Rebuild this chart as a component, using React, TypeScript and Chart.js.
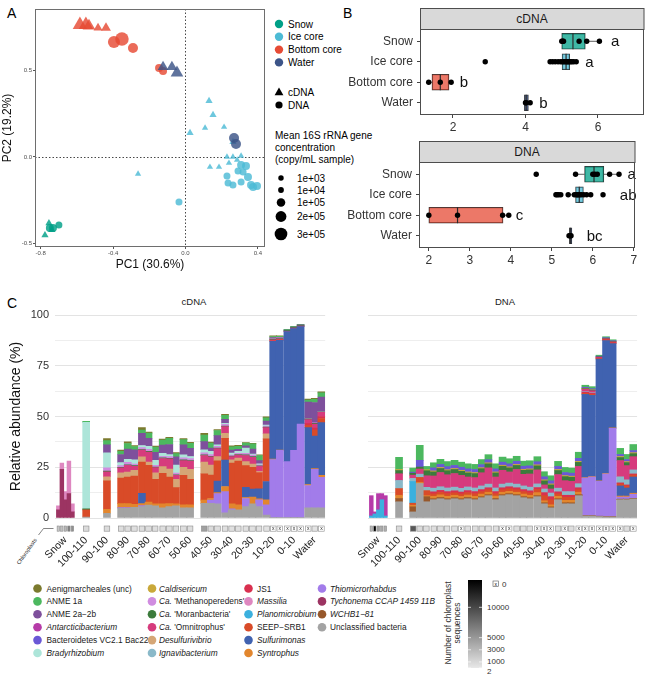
import React, { useEffect, useRef } from "react";
import { Chart, registerables } from "chart.js";

Chart.register(...registerables);

const FONT = "'Liberation Sans', Arial, Helvetica, sans-serif";

/* ===================== Panel A : PCA ===================== */
const pcaGroup = [
  "Bottom core", "Bottom core", "Bottom core", "Bottom core", "Bottom core",
  "Bottom core", "Bottom core", "Bottom core", "Bottom core", "Bottom core",
  "Water", "Water", "Water", "Water", "Water",
  "Ice core", "Ice core", "Ice core", "Ice core", "Ice core", "Ice core", "Ice core",
  "Ice core", "Ice core", "Ice core", "Ice core", "Ice core", "Ice core", "Ice core",
  "Ice core", "Ice core", "Ice core", "Ice core", "Ice core", "Ice core", "Ice core",
  "Ice core", "Ice core", "Ice core", "Ice core", "Ice core", "Ice core",
  "Snow", "Snow", "Snow", "Snow", "Snow", "Snow",
];
const pcaType = [
  "cDNA", "cDNA", "cDNA", "cDNA", "cDNA", "DNA", "DNA", "DNA", "DNA", "DNA",
  "cDNA", "cDNA", "cDNA", "DNA", "DNA",
  "cDNA", "cDNA", "cDNA", "cDNA", "cDNA", "cDNA", "cDNA",
  "cDNA", "cDNA", "cDNA", "cDNA", "cDNA", "cDNA", "cDNA",
  "DNA", "DNA", "DNA", "DNA", "DNA", "DNA", "DNA",
  "DNA", "DNA", "DNA", "DNA", "DNA", "DNA",
  "cDNA", "cDNA", "cDNA", "DNA", "DNA", "DNA",
];
const pcaPC1 = [
  -0.583, -0.55, -0.533, -0.483, -0.439, -0.395, -0.351, -0.29, -0.146, -0.124,
  -0.124, -0.075, -0.047, 0.268, 0.279,
  0.13, 0.152, 0.108, 0.213, 0.025, 0.262, 0.229, 0.262, 0.307, 0.285, 0.135, 0.185, 0.24, -0.262,
  0.229, 0.235, 0.262, 0.307, 0.318, 0.334, 0.345, 0.362, 0.373, 0.395, 0.307, 0.29, -0.036,
  -0.776, -0.754, -0.738, -0.749, -0.732, -0.699,
];
const pcaPC2 = [
  0.763, 0.763, 0.757, 0.746, 0.746, 0.665, 0.682, 0.63, 0.514, 0.497,
  0.52, 0.52, 0.486, 0.11, 0.075,
  0.324, 0.243, 0.168, 0.173, 0.139, 0.087, 0, 0, 0.006, -0.017, -0.058, -0.058, -0.035, -0.098,
  -0.11, -0.15, -0.162, -0.145, -0.087, -0.052, -0.116, -0.162, -0.173, -0.168, -0.046, -0.081, -0.26,
  -0.451, -0.382, -0.422, -0.41, -0.41, -0.393,
];
const pcaConc = [
  306000, 306000, 219000, 79000, 110000, 261000, 350000, 161000, 79000, 79000,
  143000, 143000, 219000, 161000, 161000,
  27000, 27000, 5000, 5000, 27000, 27000, 5000, 5000, 5000, 5000, 5000, 5000, 5000, 5000,
  45000, 45000, 45000, 45000, 45000, 79000, 79000, 79000, 79000, 79000, 79000, 45000, 45000,
  27000, 27000, 27000, 79000, 79000, 45000,
];
const pcaXTicks = [-0.8, -0.4, 0, 0.4];
const pcaYTicks = [-0.5, 0, 0.5];
const groupNames = ["Snow", "Ice core", "Bottom core", "Water"];
const sizeBreaks = [1000, 10000, 100000, 200000, 300000];
const sizeBreakLabels = ["1e+03", "1e+04", "1e+05", "2e+05", "3e+05"];

/* ===================== Panel B : qPCR boxplots ===================== */
const cdnaQ1 = [5.0, 5.01, 1.42, 3.97];
const cdnaMed = [5.31, 5.12, 1.65, 4.02];
const cdnaQ3 = [5.65, 5.22, 1.89, 4.08];
const cdnaLo = [5.0, 4.68, 1.33, 3.99];
const cdnaHi = [6.04, 5.42, 1.95, 4.13];
const cdnaPtGroup = [
  "Snow", "Snow", "Snow", "Snow", "Snow", "Snow",
  "Ice core", "Ice core", "Ice core", "Ice core", "Ice core", "Ice core", "Ice core", "Ice core",
  "Ice core", "Ice core", "Ice core", "Ice core", "Ice core", "Ice core", "Ice core", "Ice core",
  "Bottom core", "Bottom core", "Bottom core", "Water", "Water", "Water",
];
const cdnaPtValue = [
  5.0, 5.03, 5.05, 5.48, 5.69, 6.04,
  2.89, 4.68, 4.75, 4.82, 4.9, 4.97, 5.02, 5.06, 5.1, 5.14, 5.17, 5.2, 5.24, 5.28, 5.33, 5.4,
  1.33, 1.65, 1.95, 4.0, 4.02, 4.13,
];
const cdnaLetters = ["a", "a", "b", "b"];
const cdnaLetterX = [6.36, 5.65, 2.19, 4.38];

const dnaQ1 = [5.8, 5.58, 2.0, 5.43];
const dnaMed = [6.03, 5.67, 2.7, 5.45];
const dnaQ3 = [6.27, 5.77, 3.81, 5.49];
const dnaLo = [5.58, 5.4, 2.0, 5.42];
const dnaHi = [6.64, 5.95, 3.95, 5.5];
const dnaPtGroup = [
  "Snow", "Snow", "Snow", "Snow", "Snow", "Snow", "Snow",
  "Ice core", "Ice core", "Ice core", "Ice core", "Ice core", "Ice core", "Ice core", "Ice core",
  "Ice core", "Ice core", "Ice core", "Ice core", "Ice core", "Ice core", "Ice core",
  "Bottom core", "Bottom core", "Bottom core", "Bottom core", "Water", "Water", "Water",
];
const dnaPtValue = [
  4.62, 5.58, 6.0, 6.05, 6.11, 6.41, 6.64,
  5.1, 5.13, 5.17, 5.22, 5.4, 5.55, 5.6, 5.62, 5.65, 5.68, 5.72, 5.78, 5.85, 5.95, 6.25,
  2.0, 2.7, 3.8, 3.95, 5.42, 5.45, 5.47,
];
const dnaLetters = ["a", "ab", "c", "bc"];
const dnaLetterX = [6.85, 6.66, 4.12, 5.85];

/* ===================== Panel C : relative abundance ===================== */
const depthLabels = ["Snow", "100-110", "90-100", "80-90", "70-80", "60-70", "50-60", "40-50", "30-40", "20-30", "10-20", "0-10", "Water"];
const yGridValues = [0, 12.5, 25, 37.5, 50, 62.5, 75, 87.5, 100];

const taxa = [
  "Aenigmarcheales (unc)", "ANME 1a", "ANME 2a\u22122b", "Antarcticibacterium", "Bacteroidetes VC2.1 Bac22", "Bradyrhizobium",
  "Caldisericum", "Ca. 'Methanoperedens'", "Ca. 'Moranbacteria'", "Ca. 'Omnitrophus'", "Desulfurivibrio", "Ignavibacterium",
  "JS1", "Massilia", "Planomicrobium", "SEEP\u2212SRB1", "Sulfurimonas", "Syntrophus",
  "Thiomicrorhabdus", "Tychonema CCAP 1459 11B", "WCHB1\u221281", "Unclassified bacteria",
];
const italicTaxa = [
  "Antarcticibacterium", "Bradyrhizobium", "Caldisericum", "Desulfurivibrio", "Ignavibacterium", "Massilia",
  "Planomicrobium", "Sulfurimonas", "Syntrophus", "Thiomicrorhabdus", "Tychonema CCAP 1459 11B", "WCHB1\u221281",
];

// cDNA samples
const cdnaDepth = [
  "Snow", "Snow", "Snow", "Snow", "Snow", "100-110", "90-100",
  "80-90", "80-90", "80-90", "70-80", "70-80", "70-80", "60-70", "60-70", "60-70", "50-60", "50-60",
  "40-50", "40-50", "40-50", "30-40", "30-40", "30-40", "20-30", "20-30", "20-30",
  "10-20", "10-20", "10-20", "0-10", "0-10", "0-10", "Water", "Water", "Water",
];
const cdnaRep = [1, 2, 3, 4, 5, 2, 2, 1, 2, 3, 1, 2, 3, 1, 2, 3, 1, 2, 1, 2, 3, 1, 2, 3, 1, 2, 3, 1, 2, 3, 1, 2, 3, 1, 2, 3];
const cdnaChloroplasts = [2000, 2500, 3000, 6500, 5500, 800, 800, 600, 600, 600, 600, 600, 600, 600, 600, 600, 600, 600, 4500, 800, 600, 500, 500, 500, 500, 500, 500, 400, 0, 0, 0, 0, 0, 0, 300, 0];

const cUnclassified = [0, 0, 0, 0, 0, 0.5, 2.3, 4.8, 4.8, 5.2, 5.6, 6.4, 6.0, 5.0, 5.6, 6.0, 5.0, 5.0, 7.2, 7.2, 7.0, 2.5, 4.0, 4.0, 5.6, 7.0, 5.6, 1.5, 0.3, 0.3, 0.3, 0.3, 0.3, 5.0, 5.0, 5.0];
const cTychonema = [4, 24, 9, 12, 3, 0, 0, 0, 0, 0, 0, 0, 0, 0, 0, 0, 0, 0, 0, 0, 0, 0, 0, 0, 0, 0, 0, 0, 0, 0, 0, 0, 0, 0, 0, 0];
const cThiomicrorhabdus = [0, 0, 0, 0, 0, 0, 0, 0.3, 0.3, 0, 0.5, 0, 0, 0, 0, 0, 0, 0, 0, 1.6, 5.0, 10.5, 0.5, 0, 4.0, 0, 3.3, 5.0, 28.5, 33, 27.5, 33, 46, 11, 19, 15];
const cSyntrophus = [0, 0, 0, 0, 0, 0, 2.0, 2.0, 2.0, 1.5, 1.0, 1.5, 1.0, 2.0, 1.5, 1.0, 1.5, 1.5, 1.6, 0.8, 0.5, 2.5, 2.5, 2.5, 0.5, 3.3, 0.5, 2.5, 0.2, 0.2, 0, 0, 0, 0.5, 0.3, 1.0];
const cSulfurimonas = [0, 0, 0, 0, 0, 0, 0, 0, 0, 0, 5.0, 0, 0, 0, 0, 0, 0, 0, 0, 0, 5.7, 13, 0, 0, 5.0, 4.0, 5.0, 9.0, 58, 54, 64, 60, 48, 28, 16, 26];
const cSeepSrb1 = [0, 0, 0, 0, 0, 3.5, 14, 12.6, 13, 14, 15.5, 18, 12, 15, 13, 8, 14.5, 12.5, 13, 11.5, 10, 10.7, 20, 21.5, 10.7, 10.7, 8.0, 21, 0.3, 0.3, 0, 0, 0, 1.2, 3.0, 2.0];
const cMassilia = [2, 3, 4, 16, 4, 0, 0, 0, 0, 0, 0, 0, 0, 0, 0, 0, 0, 0, 0, 0, 0, 0, 0, 0, 0, 0, 0, 0, 0, 0, 0, 0, 0, 0, 0, 0];
const cJs1 = [0, 0, 0, 0, 0, 0, 0, 0, 0, 0, 0, 0, 0, 0, 0, 0, 0, 0, 0, 0, 0, 0, 0, 0, 0, 0, 0, 0, 0, 0, 0, 0, 0, 0.8, 1.0, 1.0];
const cDesulfurivibrio = [0, 0, 0, 0, 0, 0, 2.0, 2.5, 2.5, 2.8, 2.5, 1.6, 3.3, 3.3, 4.0, 4.0, 4.0, 5.0, 5.7, 5.0, 2.0, 2.5, 1.6, 1.5, 2.0, 1.6, 0.5, 2.5, 0, 0, 0, 0, 0, 0, 0, 0];
const cOmnitrophus = [0, 0, 0, 0, 0, 0, 2.5, 2.5, 3.3, 2.0, 3.3, 5.0, 2.5, 4.0, 5.0, 2.0, 3.3, 4.0, 3.3, 4.0, 4.0, 3.3, 1.6, 1.5, 3.0, 3.3, 2.5, 3.0, 0.5, 0.3, 0.2, 0.2, 0.2, 2.0, 2.0, 2.0];
const cMoranbacteria = [0, 0, 0, 0, 0, 0.5, 0.3, 0.3, 0.3, 0.3, 0.3, 0.3, 0.3, 0.3, 0.3, 0.3, 0.3, 0.3, 0.3, 0.3, 0.3, 0.3, 0.3, 0.3, 0.3, 0.3, 0.3, 0.3, 0.3, 0.3, 0.3, 0.3, 0.3, 0.3, 0.3, 0.3];
const cMethanoperedens = [0, 0, 0, 0, 0, 0, 1.6, 0.8, 1.2, 0.8, 1.0, 1.0, 0.8, 0.8, 0.8, 0.8, 1.0, 1.0, 1.0, 0.8, 0.8, 0.8, 0.5, 0.5, 0.8, 0.8, 0.5, 0.5, 0.3, 0.3, 0, 0, 0, 0.3, 0.3, 0.3];
const cBradyrhizobium = [0, 0, 0, 0, 0, 42.6, 7.4, 1.5, 1.5, 2.0, 1.0, 1.5, 2.5, 1.5, 1.0, 4.0, 1.5, 1.0, 1.5, 1.6, 0.8, 0.5, 1.0, 1.0, 2.5, 0.5, 0.5, 0.5, 0, 0, 0, 0, 0, 0, 0, 0];
const cAnme2 = [0, 0, 0, 0, 0, 0, 4.0, 4.0, 5.0, 5.0, 6.0, 4.0, 4.0, 4.0, 5.0, 4.0, 5.0, 4.0, 4.0, 1.6, 4.5, 2.0, 1.5, 1.0, 1.2, 2.5, 1.6, 2.0, 0.5, 0.3, 0.3, 0.3, 0.3, 8.0, 10, 7.0];
const cAnme1 = [0, 0, 0, 0, 0, 0.5, 2.0, 1.6, 2.8, 1.6, 1.6, 2.5, 2.5, 2.5, 3.0, 1.6, 2.5, 2.5, 3.3, 2.5, 2.5, 2.0, 1.5, 1.5, 1.3, 2.5, 2.5, 1.5, 0.5, 0.5, 0.3, 0.3, 0.3, 1.0, 1.5, 2.0];
const cAenigmarcheales = [0, 0, 0, 0, 0, 0, 1.0, 0.5, 0.8, 0.5, 1.2, 0.5, 0.5, 0.5, 0.5, 0.5, 0.5, 0.5, 0.8, 0.5, 0.5, 0.5, 0.5, 0.5, 0.3, 0.3, 0.3, 0.5, 0.3, 0.3, 0, 0, 0, 0.5, 0.5, 0.5];

// DNA samples
const dnaDepth = [
  "Snow", "Snow", "Snow", "Snow", "Snow", "100-110", "90-100", "90-100", "90-100",
  "80-90", "80-90", "80-90", "70-80", "70-80", "70-80", "60-70", "60-70", "60-70", "50-60", "50-60", "50-60",
  "40-50", "40-50", "40-50", "30-40", "30-40", "30-40", "20-30", "20-30", "20-30",
  "10-20", "10-20", "10-20", "0-10", "0-10", "0-10", "Water", "Water", "Water",
];
const dnaRep = [1, 2, 3, 4, 5, 2, 1, 2, 3, 1, 2, 3, 1, 2, 3, 1, 2, 3, 1, 2, 3, 1, 2, 3, 1, 2, 3, 1, 2, 3, 1, 2, 3, 1, 2, 3, 1, 2, 3];
const dnaChloroplasts = [3000, 14500, 4500, 4000, 3500, 800, 9000, 800, 600, 600, 600, 600, 600, 0, 600, 600, 600, 600, 600, 0, 0, 600, 600, 600, 0, 0, 0, 600, 0, 600, 0, 0, 0, 0, 0, 0, 0, 600, 0];

const dUnclassified = [0, 0, 0, 0, 0, 8, 3, 17, 8, 9, 9.5, 9, 9.5, 9, 9.5, 9, 10, 11, 9, 11, 11.5, 11, 10, 9.5, 10.5, 7, 5, 9, 7, 7, 11, 1, 1, 0.7, 0.5, 0.5, 9, 9, 9.4];
const dWchb1 = [0, 0, 0, 0, 0, 1.6, 2.5, 0, 2.5, 0.5, 0.6, 0.5, 0.5, 0.5, 0.6, 0.5, 0.5, 0.5, 0.6, 0.5, 0.5, 0.5, 0.5, 0.5, 0.5, 0.5, 0.5, 0.5, 0.5, 0.5, 0.5, 0.2, 0.2, 0.2, 0.2, 0.2, 0.3, 0.3, 0.3];
const dThiomicrorhabdus = [0, 0, 0, 0, 0, 0, 0, 0, 0, 0, 0, 0, 0, 0, 0, 0, 0, 0, 0, 0, 0, 0, 0, 0, 0, 0, 0, 0, 0, 0, 0, 18.5, 19, 17.2, 21, 43.5, 1, 1, 2];
const dSyntrophus = [0, 0, 0, 0, 0, 1.6, 0.8, 0.5, 0.5, 1.2, 1.3, 1.2, 1.2, 1.1, 1.2, 1.2, 1.3, 1.2, 1.2, 1.2, 1.1, 1.2, 1.3, 1.2, 1.5, 1, 1, 1.2, 1.2, 1.2, 1.2, 0.2, 0.2, 0.2, 0.2, 0.2, 0.5, 0.5, 0.5];
const dSulfurimonas = [0, 0, 0, 0, 0, 0, 0, 0, 0, 0, 0, 0, 0, 0, 0, 0, 0, 0, 0, 0, 0, 0, 0, 0, 0, 0, 0, 0, 0, 0, 0, 41, 40, 60, 65.5, 41.5, 5, 4, 8];
const dSeepSrb1 = [0, 0, 0, 0, 0, 3.3, 1, 2.5, 2.5, 1.2, 1.2, 1.3, 1.2, 1.2, 1.2, 1.3, 1.2, 1.2, 1.2, 1.2, 1.3, 1.2, 1.2, 1.2, 1.5, 2.5, 2.5, 1.2, 1.5, 1.5, 1.2, 0.5, 0.5, 0.3, 0.3, 0.3, 1, 1, 1];
const dPlanomicrobium = [1, 2, 4, 9, 1, 0, 10.7, 0, 0, 0, 0, 0, 0, 0, 0, 0, 0, 0, 0, 0, 0, 0, 0, 0, 0, 0, 0, 0, 0, 0, 0, 0, 0, 0, 0, 0, 0, 0, 0];
const dJs1 = [0, 0, 0, 0, 0, 0, 0, 0, 0, 1, 1, 1, 1, 1, 1, 1, 1, 1, 1, 1, 1, 1, 1, 1, 1, 1.5, 1.5, 1, 1, 1, 1, 0.5, 0.5, 0.3, 0.3, 0.3, 0.5, 0.5, 0.5];
const dIgnavibacterium = [0, 0, 0, 0, 0, 4, 1.5, 1.6, 1.6, 1.8, 1.8, 1.8, 1.8, 1.8, 1.8, 1.8, 1.8, 1.8, 1.8, 1.8, 1.8, 1.8, 1.8, 1.8, 1.8, 1.8, 1.8, 1.8, 1.8, 1.8, 2, 0.3, 0.3, 0, 0, 0, 3, 2.5, 2];
const dOmnitrophus = [0, 0, 0, 0, 0, 3.3, 1.6, 2.5, 5.7, 6, 7, 6.5, 6.7, 6.4, 4.9, 5.1, 6.5, 8, 5.4, 6.8, 5.5, 7.2, 5.7, 6.5, 6.9, 2, 2, 6.7, 5.4, 5.1, 8.5, 1.2, 1, 0.3, 0.3, 0.3, 8, 7, 6.5];
const dMoranbacteria = [0, 0, 0, 0, 0, 1.6, 1, 1, 2.5, 2, 2, 2, 2, 2, 2, 2, 2, 2, 2, 2, 2, 2, 2, 2, 2, 2, 2, 2, 2, 2, 2, 0.3, 0.3, 0.2, 0.2, 0.2, 1.5, 1.5, 1.5];
const dCaldisericum = [0, 0, 0, 0, 0, 0.5, 0, 0, 0.5, 0.5, 0.5, 0.5, 0.5, 0.5, 0.5, 0.5, 0.5, 0.5, 0.5, 0.5, 0.5, 0.5, 0.5, 0.5, 0.5, 0.5, 0.5, 0.5, 0.5, 0.5, 0.5, 0.2, 0.2, 0, 0, 0, 0.5, 0.5, 0.5];
const dBacteroidetes = [0, 0, 0, 0, 0, 0, 0.5, 3.3, 0, 1.5, 1.5, 1.5, 1.5, 1.5, 1.5, 1.5, 1.5, 1.5, 1.5, 1.5, 1.5, 1.5, 1.5, 1.5, 1.5, 1.5, 1.5, 1.5, 1.5, 1.5, 1.5, 0.5, 0.5, 0.3, 0.3, 0.3, 1, 1, 1];
const dAntarcticibacterium = [10, 1, 8, 3, 10, 0, 0, 0, 0, 0, 0, 0, 0, 0, 0, 0, 0, 0, 0, 0, 0, 0, 0, 0, 0, 0, 0, 0, 0, 0, 0, 0, 0, 0, 0, 0, 0, 0, 0];
const dAnme1 = [0, 0, 0, 0, 0, 6, 2, 7.4, 1.6, 2.5, 2.5, 2.5, 2.5, 2.5, 2.5, 2.5, 2.5, 2.5, 2.5, 2.5, 2.5, 2.5, 2.5, 2.5, 2.5, 2.5, 2.5, 2.5, 2.5, 2.5, 3, 1, 1, 0.5, 0.5, 0.5, 3, 2.5, 3];

/* ===================== Styles ===================== */
const GROUP_COLORS: Record<string, string> = { Snow: "#00A087", "Ice core": "#4DBBD5", "Bottom core": "#E64B35", Water: "#3C5488" };
const TAXA_COLORS = [
  "#7b7a2e", "#4cb85f", "#7e509c", "#b63ba8", "#6a58d6", "#ade5d9",
  "#c9a83a", "#d08ce0", "#3c7b3c", "#d63b7d", "#d5a676", "#8ab9c9",
  "#d9304f", "#de87c0", "#3bb0de", "#d94b28", "#4062b0", "#e2862d",
  "#a27cea", "#9c3462", "#97582b", "#a3a3a3",
];
const SLOT_STEP = 0.318;
const SNOW_STEP = 0.17;
const SLOT_BAR = 7.0;
const SNOW_BAR = 3.8;

function rgba(hex: string, a: number) {
  const n = parseInt(hex.slice(1), 16);
  return `rgba(${(n >> 16) & 255},${(n >> 8) & 255},${n & 255},${a})`;
}
function sizeRadius(conc: number) {
  return Math.sqrt(7.3 + 1.1e-4 * conc);
}
function chloroGray(count: number) {
  const t = Math.max(0, Math.min(1, (count - 2) / 14498));
  const g = Math.round(232 * (1 - t));
  return `rgb(${g},${g},${g})`;
}

const frameRect = (color: string) => ({
  id: "frameRect",
  afterDraw(chart: any) {
    const { ctx, chartArea: a } = chart;
    ctx.save();
    ctx.strokeStyle = color;
    ctx.lineWidth = 1;
    ctx.strokeRect(Math.round(a.left) + 0.5, Math.round(a.top) + 0.5, Math.round(a.right - a.left) - 1, Math.round(a.bottom - a.top) - 1);
    ctx.restore();
  },
});

/* ---------- A ---------- */
function makePca(): any {
  const combos = [
    ["Water", "DNA"], ["Water", "cDNA"], ["Bottom core", "DNA"], ["Bottom core", "cDNA"],
    ["Snow", "DNA"], ["Snow", "cDNA"], ["Ice core", "DNA"], ["Ice core", "cDNA"],
  ];
  const datasets = combos.map(([g, t]) => {
    const idx = pcaGroup.map((_, i) => i).filter((i) => pcaGroup[i] === g && pcaType[i] === t);
    const tri = t === "cDNA";
    return {
      type: "scatter",
      data: idx.map((i) => ({ x: pcaPC1[i], y: pcaPC2[i] })),
      pointStyle: tri ? "triangle" : "circle",
      pointRadius: idx.map((i) => sizeRadius(pcaConc[i]) * (tri ? 1.3 : 1)),
      pointHoverRadius: idx.map((i) => sizeRadius(pcaConc[i]) * (tri ? 1.3 : 1)),
      backgroundColor: rgba(GROUP_COLORS[g], 0.82),
      borderColor: "rgba(0,0,0,0)",
      borderWidth: 0,
    };
  });
  const zeroLines = {
    id: "zeroLines",
    beforeDatasetsDraw(chart: any) {
      const { ctx, chartArea: a, scales } = chart;
      const x0 = Math.round(scales.x.getPixelForValue(0)) + 0.5;
      const y0 = Math.round(scales.y.getPixelForValue(0)) + 0.5;
      ctx.save();
      ctx.strokeStyle = "#333";
      ctx.lineWidth = 0.9;
      ctx.setLineDash([1.5, 2]);
      ctx.beginPath();
      ctx.moveTo(x0, a.top);
      ctx.lineTo(x0, a.bottom);
      ctx.moveTo(a.left, y0);
      ctx.lineTo(a.right, y0);
      ctx.stroke();
      ctx.restore();
    },
  };
  const axis = (ticks: number[], title: string, fit: (s: any) => void) => ({
    type: "linear",
    offset: false,
    afterBuildTicks: (s: any) => {
      s.ticks = ticks.map((v) => ({ value: v }));
    },
    afterFit: fit,
    ticks: { font: { family: FONT, size: 6 }, color: "#4d4d4d", padding: 1, maxRotation: 0, callback: (v: any) => Number(v).toFixed(1) },
    grid: { display: true, drawOnChartArea: false, drawTicks: true, tickLength: 2, color: "#555", offset: false },
    border: { display: false },
    title: { display: true, text: title, font: { family: FONT, size: 12 }, color: "#111", padding: { top: 0, bottom: 0 } },
  });
  return {
    type: "scatter",
    data: { datasets },
    options: {
      responsive: false,
      animation: false,
      devicePixelRatio: 1,
      events: [],
      layout: { padding: { left: 0, right: 10, top: 9, bottom: 0 } },
      plugins: { legend: { display: false }, tooltip: { enabled: false } },
      scales: {
        x: { ...axis(pcaXTicks, "PC1 (30.6%)", (s: any) => { s.height = 25; }), min: -0.831, max: 0.439 },
        y: { ...axis(pcaYTicks, "PC2 (19.2%)", (s: any) => { s.width = 35; }), min: -0.52, max: 0.855 },
      },
    },
    plugins: [zeroLines, frameRect("#6e6e6e")],
  };
}

/* ---------- B ---------- */
function makeBox(o: any): any {
  const gi = (g: string) => groupNames.indexOf(g) + 1;
  const overlay = {
    id: "boxParts",
    beforeDatasetsDraw(chart: any) {
      const { ctx, scales } = chart;
      ctx.save();
      ctx.strokeStyle = "#333";
      ctx.lineWidth = 0.8;
      groupNames.forEach((_, i) => {
        const y = scales.y.getPixelForValue(i + 1);
        ctx.beginPath();
        ctx.moveTo(scales.x.getPixelForValue(o.lo[i]), y);
        ctx.lineTo(scales.x.getPixelForValue(o.q1[i]), y);
        ctx.moveTo(scales.x.getPixelForValue(o.q3[i]), y);
        ctx.lineTo(scales.x.getPixelForValue(o.hi[i]), y);
        ctx.stroke();
      });
      ctx.restore();
    },
    afterDatasetDraw(chart: any, args: any) {
      if (args.index !== 1) return;
      const { ctx, scales } = chart;
      ctx.save();
      ctx.strokeStyle = "#2a2a2a";
      ctx.lineWidth = 1.2;
      groupNames.forEach((_, i) => {
        const y = scales.y.getPixelForValue(i + 1);
        const x = scales.x.getPixelForValue(o.med[i]);
        ctx.beginPath();
        ctx.moveTo(x, y - 8);
        ctx.lineTo(x, y + 8);
        ctx.stroke();
      });
      ctx.restore();
    },
    afterDraw(chart: any) {
      const { ctx, scales } = chart;
      ctx.save();
      ctx.fillStyle = "#111";
      ctx.font = `15px ${FONT}`;
      ctx.textAlign = "left";
      ctx.textBaseline = "middle";
      o.letters.forEach((l: string, i: number) => {
        ctx.fillText(l, scales.x.getPixelForValue(o.letterX[i]), scales.y.getPixelForValue(i + 1) + 1);
      });
      ctx.restore();
    },
  };
  return {
    type: "bar",
    data: {
      datasets: [
        {
          type: "scatter",
          data: o.ptValue.map((v: number, i: number) => ({ x: v, y: gi(o.ptGroup[i]) })),
          pointRadius: 2.7,
          pointHoverRadius: 2.7,
          backgroundColor: "#000",
          borderWidth: 0,
        },
        {
          type: "bar",
          indexAxis: "y",
          data: groupNames.map((_, i) => ({ x: [o.q1[i], o.q3[i]], y: i + 1 })),
          backgroundColor: groupNames.map((g) => rgba(GROUP_COLORS[g], 0.75)),
          borderColor: "#333",
          borderWidth: 0.8,
          borderSkipped: false,
          barThickness: 16,
        },
      ],
    },
    options: {
      responsive: false,
      animation: false,
      devicePixelRatio: 1,
      events: [],
      layout: { padding: { left: 0, right: o.padRight, top: o.padTop, bottom: 0 } },
      plugins: { legend: { display: false }, tooltip: { enabled: false } },
      scales: {
        x: {
          type: "linear",
          offset: false,
          beginAtZero: false,
          min: o.xmin,
          max: o.xmax,
          afterBuildTicks: (s: any) => {
            s.ticks = o.xticks.map((v: number) => ({ value: v }));
          },
          afterFit: (s: any) => {
            s.height = o.axisH;
          },
          ticks: { font: { family: FONT, size: 12 }, color: "#333", padding: 2, maxRotation: 0 },
          grid: { display: true, drawOnChartArea: false, drawTicks: true, tickLength: 3, color: "#444", offset: false },
          border: { display: false },
        },
        y: {
          type: "linear",
          offset: false,
          beginAtZero: false,
          min: 0.4,
          max: 4.6,
          reverse: true,
          afterBuildTicks: (s: any) => {
            s.ticks = groupNames.map((_, i) => ({ value: i + 1 }));
          },
          afterFit: (s: any) => {
            s.width = o.axisW;
          },
          ticks: { font: { family: FONT, size: 12 }, color: "#333", padding: 4, callback: (v: any) => groupNames[Number(v) - 1] },
          grid: { display: true, drawOnChartArea: false, drawTicks: true, tickLength: 3, color: "#444", offset: false },
          border: { display: false },
        },
      },
    },
    plugins: [overlay, frameRect("#4d4d4d")],
  };
}

/* ---------- C ---------- */
function sampleX(depth: string, rep: number) {
  const g = depthLabels.indexOf(depth);
  return depth === "Snow" ? g + (rep - 3) * SNOW_STEP : g + (rep - 2) * SLOT_STEP;
}

function makeStack(depths: string[], reps: number[], series: Record<string, number[]>, chloro: number[], showY: boolean, padLeft: number, padRight: number): any {
  const xs = depths.map((d, i) => sampleX(d, reps[i]));
  const datasets: any[] = [];
  for (let t = taxa.length - 1; t >= 0; t--) {
    const arr = series[taxa[t]];
    if (!arr) continue;
    for (const snow of [false, true]) {
      const pts: any[] = [];
      arr.forEach((v, i) => {
        if (v > 0 && (depths[i] === "Snow") === snow) pts.push({ x: xs[i], y: v });
      });
      if (pts.length)
        datasets.push({
          type: "bar",
          data: pts,
          backgroundColor: TAXA_COLORS[t],
          borderWidth: 0,
          barThickness: snow ? SNOW_BAR : SLOT_BAR,
          stack: "all",
        });
    }
  }
  const strip = {
    id: "chloroStrip",
    afterDraw(chart: any) {
      const { ctx, chartArea: a, scales } = chart;
      ctx.save();
      depths.forEach((d, i) => {
        const w = (d === "Snow" ? SNOW_BAR : SLOT_BAR) - 1.4;
        const cx = scales.x.getPixelForValue(xs[i]);
        const y0 = a.bottom + 8;
        const h = 5.2;
        ctx.fillStyle = chloro[i] === 0 ? "#fff" : chloroGray(chloro[i]);
        ctx.fillRect(cx - w / 2, y0, w, h);
        ctx.strokeStyle = "#8c8c8c";
        ctx.lineWidth = 0.6;
        ctx.strokeRect(cx - w / 2, y0, w, h);
        if (chloro[i] === 0) {
          ctx.fillStyle = "#222";
          ctx.font = `5px ${FONT}`;
          ctx.textAlign = "center";
          ctx.textBaseline = "middle";
          ctx.fillText("x", cx, y0 + h / 2);
        }
      });
      ctx.restore();
    },
  };
  return {
    type: "bar",
    data: { datasets },
    options: {
      responsive: false,
      animation: false,
      devicePixelRatio: 1,
      events: [],
      layout: { padding: { left: padLeft, right: padRight, top: 20, bottom: 0 } },
      plugins: { legend: { display: false }, tooltip: { enabled: false } },
      scales: {
        x: {
          type: "linear",
          offset: false,
          stacked: true,
          min: -0.5,
          max: 12.5,
          afterBuildTicks: (s: any) => {
            s.ticks = depthLabels.map((_, i) => ({ value: i }));
          },
          afterFit: (s: any) => {
            s.height = 67;
          },
          ticks: {
            autoSkip: false,
            minRotation: 45,
            maxRotation: 45,
            padding: 16,
            font: { family: FONT, size: 10.5 },
            color: "#222",
            callback: (_v: any, i: number) => depthLabels[i],
          },
          grid: { display: false, drawTicks: false, offset: false },
          border: { display: false },
        },
        y: {
          type: "linear",
          offset: false,
          stacked: true,
          min: 0,
          max: 100,
          afterBuildTicks: (s: any) => {
            s.ticks = yGridValues.map((v) => ({ value: v }));
          },
          afterFit: (s: any) => {
            s.width = showY ? 55 : 0;
          },
          ticks: {
            display: showY,
            font: { family: FONT, size: 11 },
            color: "#333",
            padding: 6,
            callback: (v: any) => (Number(v) % 25 === 0 ? String(v) : ""),
          },
          grid: {
            drawTicks: false,
            lineWidth: 1,
            offset: false,
            color: (c: any) => (c.tick && c.tick.value % 25 === 0 ? "#e3e3e3" : "#eeeeee"),
          },
          border: { display: false },
          title: {
            display: showY,
            text: "Relative abundance (%)",
            font: { family: FONT, size: 14 },
            color: "#111",
            padding: { top: 8, bottom: 0 },
          },
        },
      },
    },
    plugins: [strip],
  };
}

const cdnaSeries: Record<string, number[]> = {
  "Unclassified bacteria": cUnclassified,
  "Tychonema CCAP 1459 11B": cTychonema,
  Thiomicrorhabdus: cThiomicrorhabdus,
  Syntrophus: cSyntrophus,
  Sulfurimonas: cSulfurimonas,
  "SEEP\u2212SRB1": cSeepSrb1,
  Massilia: cMassilia,
  JS1: cJs1,
  Desulfurivibrio: cDesulfurivibrio,
  "Ca. 'Omnitrophus'": cOmnitrophus,
  "Ca. 'Moranbacteria'": cMoranbacteria,
  "Ca. 'Methanoperedens'": cMethanoperedens,
  Bradyrhizobium: cBradyrhizobium,
  "ANME 2a\u22122b": cAnme2,
  "ANME 1a": cAnme1,
  "Aenigmarcheales (unc)": cAenigmarcheales,
};
const dnaSeries: Record<string, number[]> = {
  "Unclassified bacteria": dUnclassified,
  "WCHB1\u221281": dWchb1,
  Thiomicrorhabdus: dThiomicrorhabdus,
  Syntrophus: dSyntrophus,
  Sulfurimonas: dSulfurimonas,
  "SEEP\u2212SRB1": dSeepSrb1,
  Planomicrobium: dPlanomicrobium,
  JS1: dJs1,
  Ignavibacterium: dIgnavibacterium,
  "Ca. 'Omnitrophus'": dOmnitrophus,
  "Ca. 'Moranbacteria'": dMoranbacteria,
  Caldisericum: dCaldisericum,
  "Bacteroidetes VC2.1 Bac22": dBacteroidetes,
  Antarcticibacterium: dAntarcticibacterium,
  "ANME 1a": dAnme1,
};

/* ===================== React ===================== */
function ChartCanvas({ x, y, w, h, build }: any) {
  const ref = useRef<HTMLCanvasElement>(null);
  useEffect(() => {
    const chart = new Chart(ref.current as HTMLCanvasElement, build());
    return () => chart.destroy();
  }, []);
  return <canvas ref={ref} width={w} height={h} style={{ position: "absolute", left: x, top: y, width: w, height: h }} />;
}

function taxonLabel(name: string) {
  if (name.startsWith("Ca. ")) {
    return (
      <>
        <tspan fontStyle="italic">Ca.</tspan>
        <tspan>{name.slice(3)}</tspan>
      </>
    );
  }
  if (italicTaxa.includes(name)) return <tspan fontStyle="italic">{name}</tspan>;
  return <tspan>{name}</tspan>;
}

function Overlay() {
  const legendCols = [
    { cx: 37.5, tx: 46.5 },
    { cx: 152, tx: 159 },
    { cx: 248.5, tx: 257 },
    { cx: 322, tx: 330 },
  ];
  const cbTop = 580;
  const cbH = 88;
  const cbTicks = [10000, 5000, 3000, 1000, 2];
  const cbY = (v: number) => cbTop + cbH - ((v - 2) / 14498) * cbH;
  return (
    <svg width={652} height={680} style={{ position: "absolute", left: 0, top: 0 }} fontFamily={FONT}>
      <defs>
        <linearGradient id="cbGrad" x1="0" y1="0" x2="0" y2="1">
          <stop offset="0" stopColor="#000" />
          <stop offset="1" stopColor="#e8e8e8" />
        </linearGradient>
      </defs>
      {/* panel letters */}
      <text x={7} y={13} fontSize={14} dominantBaseline="central">A</text>
      <text x={343} y={13} fontSize={14} dominantBaseline="central">B</text>
      <text x={7} y={303} fontSize={14} dominantBaseline="central">C</text>

      {/* A legend */}
      {groupNames.map((g, i) => (
        <g key={g}>
          <circle cx={279} cy={24 + i * 12.8} r={4.2} fill={GROUP_COLORS[g]} />
          <text x={288} y={24 + i * 12.8} fontSize={10} dominantBaseline="central">{g}</text>
        </g>
      ))}
      <polygon points="279,87.5 274.6,95.2 283.4,95.2" fill="#000" />
      <text x={288} y={92} fontSize={10} dominantBaseline="central">cDNA</text>
      <circle cx={279} cy={105} r={3.6} fill="#000" />
      <text x={288} y={105} fontSize={10} dominantBaseline="central">DNA</text>
      <text x={275} y={135} fontSize={10} dominantBaseline="central">Mean 16S rRNA gene</text>
      <text x={275} y={147} fontSize={10} dominantBaseline="central">concentration</text>
      <text x={275} y={159} fontSize={10} dominantBaseline="central">(copy/mL sample)</text>
      {sizeBreaks.map((v, i) => {
        const cy = [178, 190, 202.5, 216.5, 234][i];
        return (
          <g key={v}>
            <circle cx={281} cy={cy} r={sizeRadius(v)} fill="#000" />
            <text x={297} y={cy} fontSize={10} dominantBaseline="central">{sizeBreakLabels[i]}</text>
          </g>
        );
      })}

      {/* B strips */}
      <rect x={420.5} y={8.5} width={223.5} height={21} fill="#d9d9d9" stroke="#4d4d4d" strokeWidth={1} />
      <text x={532} y={19} fontSize={12} textAnchor="middle" dominantBaseline="central" fill="#1a1a1a">cDNA</text>
      <rect x={419.5} y={141.5} width={215.5} height={21} fill="#d9d9d9" stroke="#4d4d4d" strokeWidth={1} />
      <text x={527} y={152} fontSize={12} textAnchor="middle" dominantBaseline="central" fill="#1a1a1a">DNA</text>

      {/* C facet titles */}
      <text x={194} y={301} fontSize={9.5} textAnchor="middle" dominantBaseline="central" fill="#1a1a1a">cDNA</text>
      <text x={505} y={301} fontSize={9.5} textAnchor="middle" dominantBaseline="central" fill="#1a1a1a">DNA</text>

      {/* chloroplast strip label */}
      <polyline points="38.5,535 43.5,528.5 53.5,528.5" fill="none" stroke="#333" strokeWidth={0.6} />
      <text x={37} y={540} fontSize={5.5} textAnchor="end" transform="rotate(-55 37 540)" fill="#222">Chloroplasts</text>

      {/* C taxa legend */}
      {taxa.map((name, i) => {
        const col = legendCols[Math.floor(i / 6)];
        const y = 588.5 + (i % 6) * 12.9;
        return (
          <g key={name}>
            <circle cx={col.cx} cy={y} r={4.3} fill={TAXA_COLORS[i]} />
            <text x={col.tx} y={y} fontSize={8.3} dominantBaseline="central" fill="#1a1a1a">{taxonLabel(name)}</text>
          </g>
        );
      })}

      {/* chloroplast colour bar */}
      <text transform="translate(448 623) rotate(-90)" fontSize={8.5} textAnchor="middle" dominantBaseline="central" fill="#333">Number of chloroplast</text>
      <text transform="translate(457 623) rotate(-90)" fontSize={8.5} textAnchor="middle" dominantBaseline="central" fill="#333">sequences</text>
      <rect x={468} y={cbTop} width={14} height={cbH} fill="url(#cbGrad)" />
      {cbTicks.map((v) => (
        <g key={v}>
          <line x1={468} x2={471} y1={cbY(v)} y2={cbY(v)} stroke="#fff" strokeWidth={0.7} />
          <line x1={479} x2={482} y1={cbY(v)} y2={cbY(v)} stroke="#fff" strokeWidth={0.7} />
          <text x={487} y={v === 2 ? cbY(v) + 3 : cbY(v)} fontSize={8} dominantBaseline="central" fill="#333">{String(v)}</text>
        </g>
      ))}
      <rect x={493} y={581} width={5.5} height={5.5} fill="#fff" stroke="#555" strokeWidth={0.6} />
      <text x={495.75} y={583.9} fontSize={5} textAnchor="middle" dominantBaseline="central">x</text>
      <text x={502} y={584} fontSize={8} dominantBaseline="central" fill="#333">0</text>
    </svg>
  );
}

export default function App() {
  const common = { position: "absolute" as const, left: 0, top: 0, width: 652, height: 680, background: "#fff", fontFamily: FONT, overflow: "hidden" };
  return (
    <div style={common}>
      <Overlay />
      <ChartCanvas x={0} y={0} w={275} h={272} build={makePca} />
      <ChartCanvas
        x={330}
        y={0}
        w={322}
        h={135}
        build={() =>
          makeBox({
            q1: cdnaQ1, med: cdnaMed, q3: cdnaQ3, lo: cdnaLo, hi: cdnaHi,
            ptGroup: cdnaPtGroup, ptValue: cdnaPtValue, letters: cdnaLetters, letterX: cdnaLetterX,
            xmin: 1.09, xmax: 7.27, xticks: [2, 4, 6], padRight: 8, padTop: 29, axisH: 20, axisW: 90,
          })
        }
      />
      <ChartCanvas
        x={330}
        y={135}
        w={322}
        h={135}
        build={() =>
          makeBox({
            q1: dnaQ1, med: dnaMed, q3: dnaQ3, lo: dnaLo, hi: dnaHi,
            ptGroup: dnaPtGroup, ptValue: dnaPtValue, letters: dnaLetters, letterX: dnaLetterX,
            xmin: 1.76, xmax: 7.03, xticks: [2, 3, 4, 5, 6, 7], padRight: 17, padTop: 27, axisH: 22, axisW: 89,
          })
        }
      />
      <ChartCanvas x={0} y={295} w={340} h={290} build={() => makeStack(cdnaDepth, cdnaRep, cdnaSeries, cdnaChloroplasts, true, 0, 8)} />
      <ChartCanvas x={340} y={295} w={312} h={290} build={() => makeStack(dnaDepth, dnaRep, dnaSeries, dnaChloroplasts, false, 28, 9)} />
    </div>
  );
}
